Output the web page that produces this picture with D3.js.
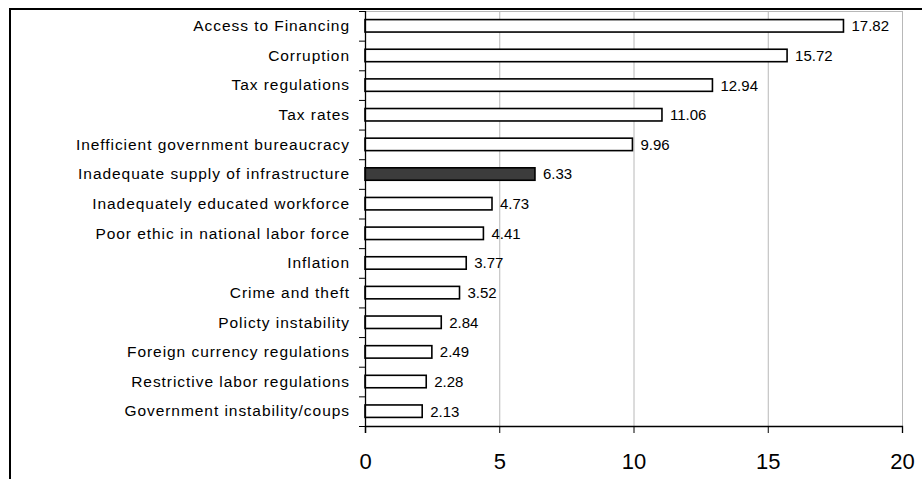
<!DOCTYPE html>
<html>
<head>
<meta charset="utf-8">
<script src="https://cdn.jsdelivr.net/npm/d3@7"></script>
<style>
  html, body { margin: 0; padding: 0; background: #fff; }
  svg { display: block; }
  text { font-family: "Liberation Sans", Arial, sans-serif; fill: #000; }
</style>
</head>
<body>
<svg id="chart" width="922" height="479"></svg>
<script>
// Obstacles to doing business, share of responses (%)
const categories = [
  "Access to Financing",
  "Corruption",
  "Tax regulations",
  "Tax rates",
  "Inefficient government bureaucracy",
  "Inadequate supply of infrastructure",
  "Inadequately educated workforce",
  "Poor ethic in national labor force",
  "Inflation",
  "Crime and theft",
  "Policty instability",
  "Foreign currency regulations",
  "Restrictive labor regulations",
  "Government instability/coups"
];
const values = [17.82, 15.72, 12.94, 11.06, 9.96, 6.33, 4.73, 4.41, 3.77, 3.52, 2.84, 2.49, 2.28, 2.13];
const highlighted = ["Inadequate supply of infrastructure"];
const xTicks = [0, 5, 10, 15, 20];
const xDomain = [0, 20];

const data = categories.map((c, i) => ({ name: c, value: values[i] }));

const svg = d3.select("#chart");
const plot = { left: 365, right: 902, top: 11, bottom: 426 };

const x = d3.scaleLinear().domain(xDomain).range([plot.left, plot.right]);
const y = d3.scaleBand()
  .domain(categories)
  .range([plot.top, plot.bottom])
  .paddingInner(0.58)
  .paddingOuter(0.29);

// outer frame (top and left edges)
svg.append("path")
  .attr("d", `M10,482 L10,9 L925,9`)
  .attr("fill", "none")
  .attr("stroke", "#000")
  .attr("stroke-width", 2);

// vertical gridlines
svg.append("g")
  .selectAll("line")
  .data(xTicks.filter(t => t > xDomain[0]))
  .join("line")
  .attr("x1", d => x(d) + 0.5).attr("x2", d => x(d) + 0.5)
  .attr("y1", plot.top).attr("y2", plot.bottom)
  .attr("stroke", "#b8b8b8")
  .attr("stroke-width", 1);

// plot area top border
svg.append("line")
  .attr("x1", plot.left).attr("x2", plot.right + 0.5)
  .attr("y1", plot.top + 0.5).attr("y2", plot.top + 0.5)
  .attr("stroke", "#b8b8b8");

// bars
svg.append("g")
  .selectAll("rect")
  .data(data)
  .join("rect")
  .attr("x", x(0))
  .attr("y", d => y(d.name))
  .attr("width", d => x(d.value) - x(0))
  .attr("height", y.bandwidth())
  .attr("fill", d => highlighted.includes(d.name) ? "#3c3c3c" : "#fff")
  .attr("stroke", "#000")
  .attr("stroke-width", 1.6);

// value labels
svg.append("g")
  .selectAll("text")
  .data(data)
  .join("text")
  .attr("x", d => x(d.value) + 8)
  .attr("y", d => y(d.name) + y.bandwidth() / 2)
  .attr("dy", "0.36em")
  .attr("font-size", 15)
  .attr("letter-spacing", 0)
  .text(d => d.value.toFixed(2));

// y axis with ticks at category boundaries
const nCat = categories.length;
const yAxis = svg.append("g");
yAxis.append("line")
  .attr("x1", plot.left + 0.5).attr("x2", plot.left + 0.5)
  .attr("y1", plot.top).attr("y2", plot.bottom + 7)
  .attr("stroke", "#000").attr("stroke-width", 1.3);
yAxis.selectAll("line.tick")
  .data(d3.range(nCat + 1))
  .join("line")
  .attr("class", "tick")
  .attr("x1", plot.left - 6).attr("x2", plot.left)
  .attr("y1", i => plot.top + i * (plot.bottom - plot.top) / nCat + 0.5)
  .attr("y2", i => plot.top + i * (plot.bottom - plot.top) / nCat + 0.5)
  .attr("stroke", "#000");
yAxis.selectAll("text")
  .data(categories)
  .join("text")
  .attr("x", 350)
  .attr("y", d => y(d) + y.bandwidth() / 2)
  .attr("dy", "0.34em")
  .attr("text-anchor", "end")
  .attr("font-size", 15.5)
  .attr("letter-spacing", 0.95)
  .text(d => d);

// x axis
const xAxis = d3.axisBottom(x).tickValues(xTicks).tickSize(7).tickPadding(20);
const gx = svg.append("g")
  .attr("transform", `translate(0,${plot.bottom})`)
  .call(xAxis);
gx.select(".domain").attr("stroke", "#000").attr("stroke-width", 1.3);
gx.selectAll(".tick line").attr("stroke", "#000");
gx.selectAll(".tick text")
  .attr("font-family", "'Liberation Sans', Arial, sans-serif")
  .attr("font-size", 22)
  .attr("fill", "#000");
</script>
</body>
</html>
